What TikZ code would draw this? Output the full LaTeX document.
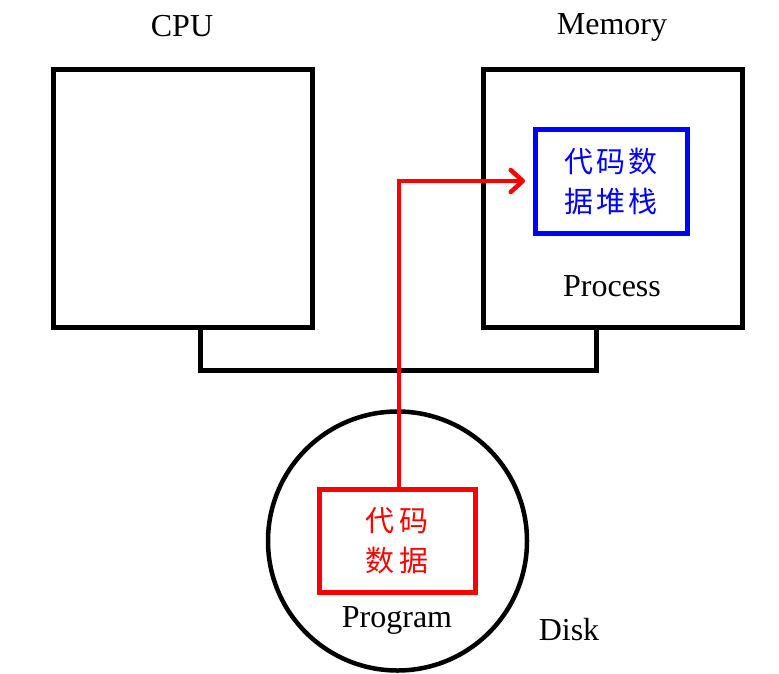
\documentclass[tikz,border=0pt]{standalone}
\usepackage{fontspec}
\setmainfont{Liberation Serif}
\newfontfamily\cjk{Noto Sans CJK SC}
\usetikzlibrary{arrows.meta}
\begin{document}
\begin{tikzpicture}[x=1pt,y=-1pt,
  unit/.style={draw=black,line width=5pt,minimum width=259pt,minimum height=258pt,inner sep=0pt},
  lbl/.style={font=\fontsize{32}{38}\selectfont,inner sep=0pt,anchor=base},
  seg/.style={draw=black,line width=5pt},
  flow/.style={draw=red,line width=4.5pt},
  zh/.style={font=\cjk\fontsize{29}{40}\selectfont,align=center,inner sep=0pt}]
\useasboundingbox (0,0) rectangle (779,673);

% processor and main memory
\node[unit] (cpu) at (182.5,198) {};
\node[unit] (mem) at (612.5,198) {};
\node[lbl] (cpulbl) at (182,36) {CPU};
\node[lbl] (memlbl) at (612,34) {Memory};

% loaded process image
\node[draw=blue,line width=5pt,minimum width=152pt,minimum height=104pt,inner sep=0pt,
      text=blue,zh] (proc) at (611,181) {代\hspace{3pt}码\hspace{3pt}数\\据\hspace{3pt}堆\hspace{3pt}栈};
\node[lbl] (proclbl) at (612,296) {Process};

% system bus
\coordinate (busL) at (200,370);
\coordinate (busR) at (596,370);
\draw[seg] (busL |- cpu.south) -- (busL) -- (busR) -- (busR |- mem.south);

% disk with stored program
\node[draw=black,line width=4.5pt,circle,minimum size=259pt,inner sep=0pt] (disk) at (397.5,541) {};
\node[draw=red,line width=5pt,minimum width=156pt,minimum height=103pt,inner sep=0pt,
      text=red,zh] (prog) at (397,540.5) {代\hspace{5pt}码\\数\hspace{5pt}据};
\node[lbl] (proglbl) at (397,627) {Program};
\node[lbl] (disklbl) at (569,640) {Disk};

% loading the program into memory
\coordinate (tip) at (525,181);
\draw[flow,-{Straight Barb[length=12pt,width=22pt,line cap=round,line join=round]}]
  ([xshift=2pt]prog.north) |- (tip);
\end{tikzpicture}
\end{document}
